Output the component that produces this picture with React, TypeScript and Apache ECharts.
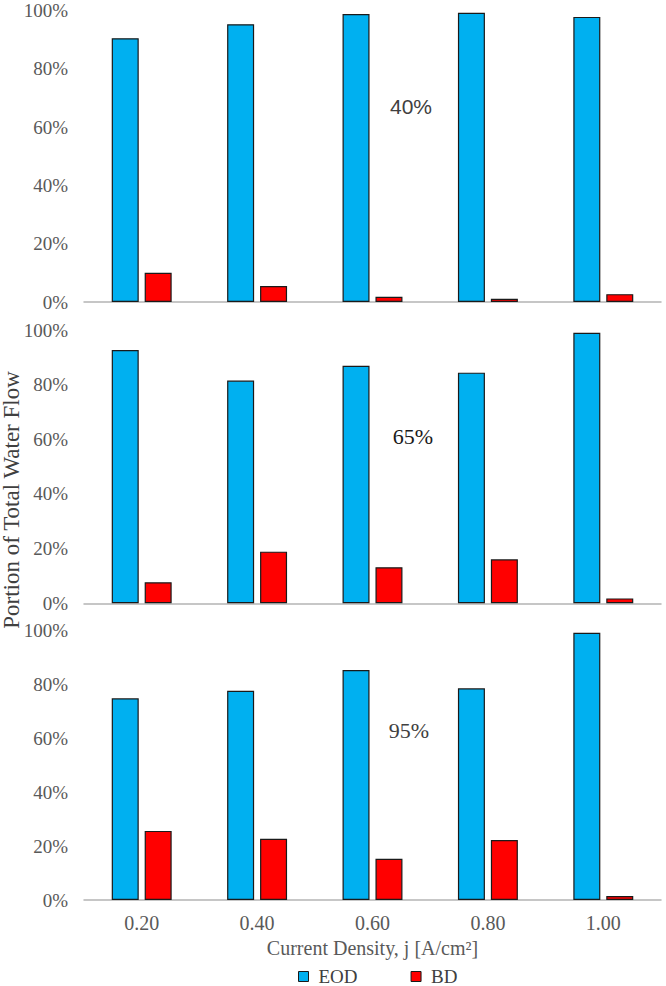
import React, { useEffect, useRef } from "react";
import * as echarts from "echarts";

const categories = ["0.20", "0.40", "0.60", "0.80", "1.00"];
const panelLabels = ["40%", "65%", "95%"];
const yTicks = [0, 20, 40, 60, 80, 100];

const eod40 = [90.5, 95.3, 98.8, 99.2, 97.8];
const bd40 = [10.0, 5.5, 1.8, 1.1, 2.7];
const eod65 = [92.7, 81.5, 86.9, 84.4, 99.0];
const bd65 = [7.7, 18.9, 13.2, 16.1, 1.8];
const eod95 = [74.7, 77.5, 85.2, 78.4, 99.0];
const bd95 = [25.6, 22.7, 15.3, 22.2, 1.5];

const SERIF = "Liberation Serif";
const SANS = "Liberation Sans";

export default function App() {
  const ref = useRef<HTMLDivElement>(null);
  useEffect(() => {
    if (!ref.current) return;
    const chart = echarts.init(ref.current, null, { renderer: "svg" });
    const grids = [
      { left: 84, right: 5, top: 10.5, height: 291.5 },
      { left: 84, right: 5, top: 330, height: 273.3 },
      { left: 84, right: 5, top: 630, height: 270 },
    ];
    const eod = [eod40, eod65, eod95];
    const bd = [bd40, bd65, bd95];
    const xAxis = grids.map((_, i) => ({
      type: "category",
      gridIndex: i,
      data: categories,
      axisTick: { show: false },
      axisLine: { show: true, lineStyle: { color: "#b4b4b4", width: 1.5 } },
      axisLabel: {
        show: i === 2,
        fontFamily: SERIF,
        fontSize: 20,
        color: "#595959",
        margin: 13,
      },
      name: i === 2 ? "Current Density, j [A/cm²]" : "",
      nameLocation: "middle",
      nameGap: 38,
      nameTextStyle: { fontFamily: SERIF, fontSize: 20, color: "#595959" },
    }));
    const yAxis = grids.map((_, i) => ({
      type: "value",
      gridIndex: i,
      min: yTicks[0],
      max: yTicks[yTicks.length - 1],
      interval: 20,
      splitLine: { show: false },
      axisLine: { show: false },
      axisTick: { show: false },
      axisLabel: {
        formatter: "{value}%",
        fontFamily: SERIF,
        fontSize: 19,
        color: "#595959",
        margin: 16,
      },
    }));
    const series: any[] = [];
    grids.forEach((_, i) => {
      series.push({
        type: "bar",
        name: "EOD",
        xAxisIndex: i,
        yAxisIndex: i,
        data: eod[i],
        barWidth: 27,
        barGap: "22%",
        itemStyle: { color: "#00B0F0", borderColor: "#1a1a1a", borderWidth: 1.2 },
      });
      series.push({
        type: "bar",
        name: "BD",
        xAxisIndex: i,
        yAxisIndex: i,
        data: bd[i],
        barWidth: 27,
        barGap: "22%",
        itemStyle: { color: "#FF0000", borderColor: "#1a1a1a", borderWidth: 1.2 },
      });
    });
    chart.setOption({
      animation: false,
      backgroundColor: "#ffffff",
      grid: grids,
      xAxis,
      yAxis,
      series,
      legend: {
        data: ["EOD", "BD"],
        left: 298,
        top: 967,
        padding: 0,
        itemWidth: 10,
        itemHeight: 10,
        itemGap: 53,
        icon: "rect",
        itemStyle: { borderColor: "#1a1a1a", borderWidth: 1 },
        textStyle: {
          fontFamily: SERIF,
          fontSize: 19,
          color: "#404040",
          lineHeight: 19,
          padding: [0, 0, 0, 5],
        },
      },
      graphic: [
        {
          type: "text",
          x: 11,
          y: 500,
          rotation: Math.PI / 2,
          style: {
            text: "Portion of Total Water Flow",
            fontFamily: SERIF,
            fontSize: 23,
            fill: "#404040",
            textAlign: "center",
            textVerticalAlign: "middle",
          },
        },
        {
          type: "text",
          x: 411,
          y: 106,
          style: {
            text: panelLabels[0],
            fontFamily: SANS,
            fontSize: 21,
            fill: "#404040",
            textAlign: "center",
            textVerticalAlign: "middle",
          },
        },
        {
          type: "text",
          x: 413,
          y: 436,
          style: {
            text: panelLabels[1],
            fontFamily: SERIF,
            fontSize: 22,
            fill: "#1a1a1a",
            textAlign: "center",
            textVerticalAlign: "middle",
          },
        },
        {
          type: "text",
          x: 409,
          y: 730,
          style: {
            text: panelLabels[2],
            fontFamily: SERIF,
            fontSize: 22,
            fill: "#404040",
            textAlign: "center",
            textVerticalAlign: "middle",
          },
        },
      ],
    });
    return () => chart.dispose();
  }, []);
  return (
    <div
      ref={ref}
      style={{ position: "absolute", left: 0, top: 0, width: 666, height: 986 }}
    />
  );
}
